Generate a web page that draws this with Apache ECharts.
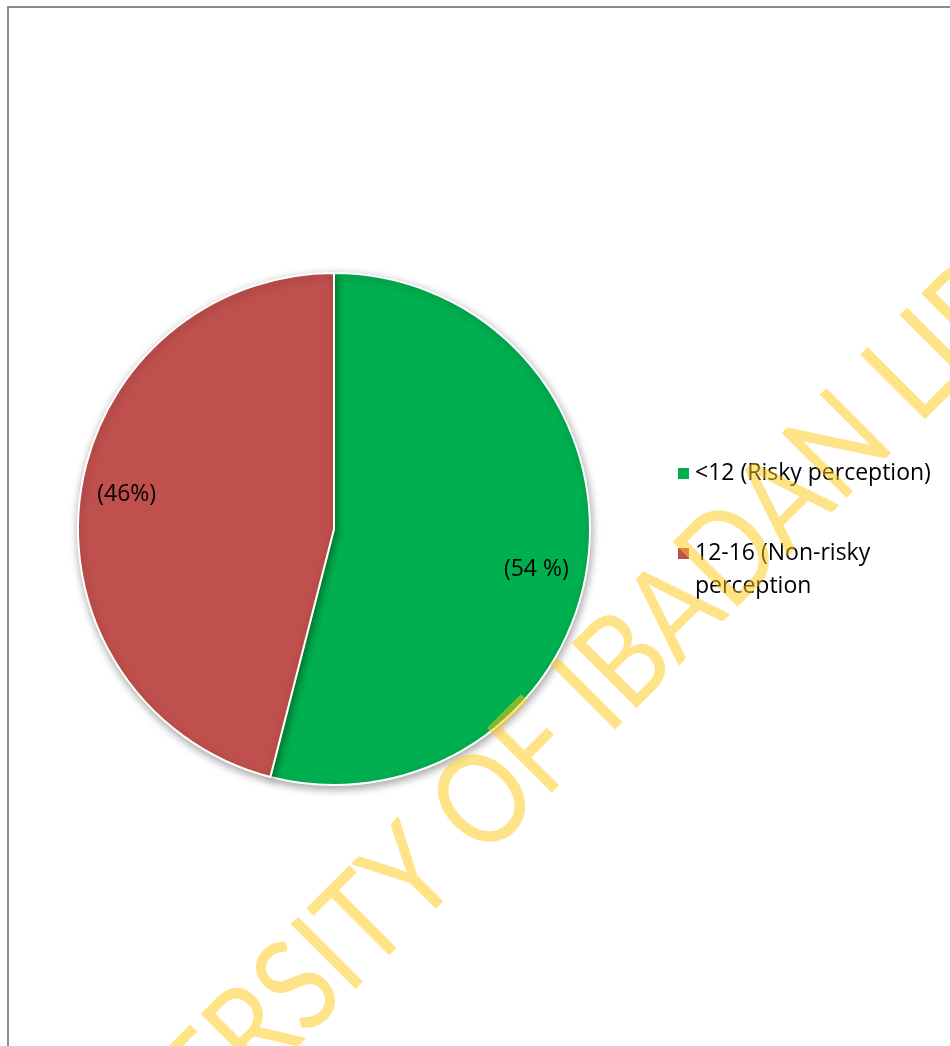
<!DOCTYPE html>
<html>
<head>
<meta charset="utf-8">
<script src="https://cdn.jsdelivr.net/npm/echarts@6/dist/echarts.min.js"></script>
<style>
  html, body { margin: 0; padding: 0; background: #fff; }
  #chart { width: 950px; height: 1046px; }
</style>
</head>
<body>
<div id="chart"></div>
<script>
// categories and shares
const categories = ['<12 (Risky perception)', '12-16 (Non-risky perception'];
const shares = [54, 46];
const sliceLabels = ['(54 %)', '(46%)'];
const sliceColors = ['#00B050', '#C0504D'];

const chart = echarts.init(document.getElementById('chart'));

const pieData = categories.map((name, i) => ({
  name: name,
  value: shares[i],
  itemStyle: { color: sliceColors[i] }
}));

const labelData = categories.map((name, i) => ({
  name: name,
  value: shares[i],
  label: { formatter: sliceLabels[i] }
}));

const option = {
  animation: false,
  backgroundColor: '#fff',
  graphic: [
    {
      type: 'rect',
      z: 0,
      shape: { x: 8, y: 7, width: 1000, height: 1100 },
      style: { fill: 'none', stroke: '#8c8c8c', lineWidth: 2 }
    },
    {
      // library watermark of the scanned page, laid over everything
      type: 'text',
      z: 100,
      silent: true,
      x: 595,
      y: 691,
      rotation: Math.PI / 4,
      scaleX: 0.85,
      style: {
        text: 'UNIVERSITY OF IBADAN LIBRARY',
        font: '128px Lato',
        fill: 'rgba(255,200,20,0.5)',
        align: 'center',
        verticalAlign: 'middle'
      }
    }
  ],
  legend: {
    orient: 'vertical',
    left: 676,
    top: 457,
    padding: 0,
    itemWidth: 13,
    itemHeight: 13,
    itemGap: 14,
    icon: 'rect',
    data: categories,
    // the wrapped entry keeps its first line level with the square
    formatter: function (name) {
      return name === categories[1] ? '\n' + name : name;
    },
    textStyle: {
      fontFamily: 'Open Sans',
      fontSize: 23,
      color: '#000',
      lineHeight: 33,
      width: 250,
      overflow: 'break'
    }
  },
  series: [
    {
      type: 'pie',
      center: [334, 529],
      radius: 256,
      startAngle: 90,
      clockwise: true,
      label: { show: false },
      labelLine: { show: false },
      itemStyle: {
        borderColor: '#fff',
        borderWidth: 2,
        shadowBlur: 8,
        shadowOffsetX: 1,
        shadowOffsetY: 3,
        shadowColor: 'rgba(0,0,0,0.35)'
      },
      emphasis: { disabled: true },
      data: pieData
    },
    {
      type: 'pie',
      center: [334, 529],
      radius: [154, 256],
      startAngle: 90,
      clockwise: true,
      silent: true,
      itemStyle: { color: 'rgba(0,0,0,0)' },
      label: {
        show: true,
        position: 'inside',
        fontFamily: 'Open Sans',
        fontSize: 23,
        color: '#000'
      },
      labelLayout: function (params) {
        return { dx: params.dataIndex === 0 ? -4 : -1, dy: params.dataIndex === 0 ? 14 : -8 };
      },
      labelLine: { show: false },
      emphasis: { disabled: true },
      data: labelData
    }
  ]
};

chart.setOption(option);
</script>
</body>
</html>
